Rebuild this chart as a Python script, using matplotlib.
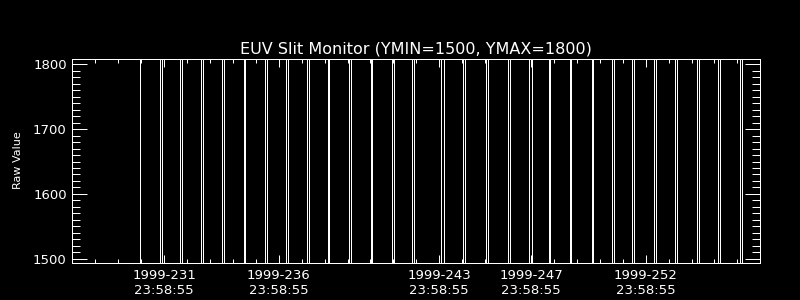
import matplotlib

matplotlib.use("Agg")

import matplotlib.pyplot as plt  # noqa: E402
import numpy as np  # noqa: E402

# Times (fractional day of year 1999) where the slit monitor trace jumps
# across the whole plotted range.
step_days = [
    230.957,
    231.813, 231.899, 232.712, 232.781, 233.624, 233.680, 234.519, 234.593,
    235.475, 235.549, 236.387, 236.491, 237.316, 237.403, 238.229, 238.316,
    239.141, 239.210, 240.079, 240.166, 241.009, 241.065, 241.921, 242.008,
    242.833, 242.920, 244.093, 244.206, 245.031, 245.118, 246.017, 246.117,
    246.986, 247.073, 247.928, 248.029, 248.785, 248.841, 249.697, 249.766,
    250.652, 250.722, 251.521, 251.621, 252.416, 252.490, 253.372, 253.446,
    254.271, 254.358, 255.227, 255.314, 256.152, 256.226, 257.108, 257.182,
]
low_value = 1200.0
high_value = 2200.0

label_days = [231, 236, 243, 247, 252]
minor_days = list(range(227, 258))
tick_time = "23:58:55"
tick_frac = (23 * 3600 + 58 * 60 + 55) / 86400.0

# build the trace: each step is a vertical jump between the two levels
levels = [low_value, high_value]
xs, ys = [], []
state = 0
for t in step_days:
    xs += [t, t]
    ys += [levels[state], levels[1 - state]]
    state = 1 - state
xs = np.array(xs)
ys = np.array(ys)

plt.rcParams["font.family"] = "DejaVu Sans"
LW = 0.72  # one pixel at 100 dpi

fig = plt.figure(figsize=(8, 3), dpi=100, facecolor="black")
ax = fig.add_axes([0.0904, 0.1233, 0.86, 0.679], facecolor="black")

ax.plot(xs, ys, color="white", lw=LW, antialiased=False)

ax.set_xlim(228.086, 258.0)
ax.set_ylim(1493.4, 1807.7)

for s in ax.spines.values():
    s.set_color("white")
    s.set_linewidth(LW)

ax.set_xticks([d + tick_frac for d in label_days])
ax.set_xticklabels([f"1999-{d}\n{tick_time}" for d in label_days])
ax.set_xticks([d + tick_frac for d in minor_days], minor=True)
ax.set_yticks([1500, 1600, 1700, 1800])
ax.set_yticks(np.arange(1500, 1801, 10), minor=True)

ax.tick_params(axis="both", which="both", direction="in", colors="white",
               width=LW, top=True, right=True, labelsize=9.5)
ax.tick_params(axis="x", which="major", length=5.5, pad=4.5)
ax.tick_params(axis="x", which="minor", length=2.8)
ax.tick_params(axis="y", which="major", length=10.5, pad=4)
ax.tick_params(axis="y", which="minor", length=5.5)
for lab in ax.get_xticklabels():
    lab.set_linespacing(1.2)

ax.set_title("EUV Slit Monitor (YMIN=1500, YMAX=1800)", color="white",
             fontsize=11.5, pad=4)
fig.text(18 / 800, 1 - 160 / 300, "Raw Value", color="white", rotation=90,
         ha="center", va="center", fontsize=8)

fig.savefig("out.png", dpi=100, facecolor="black")
